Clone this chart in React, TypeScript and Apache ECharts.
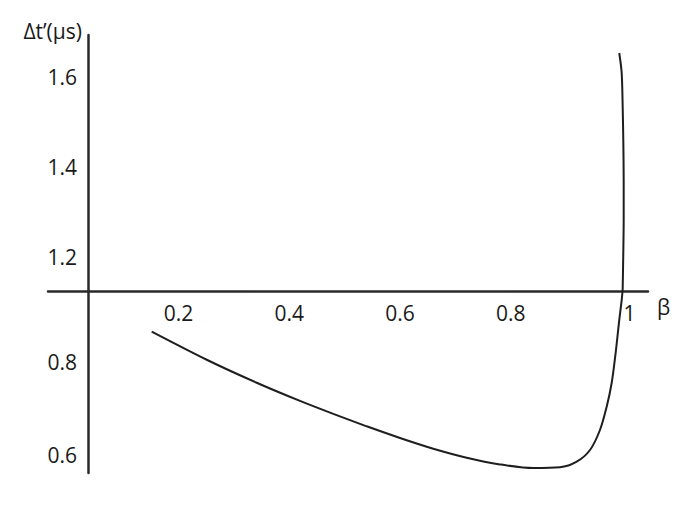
import React, { useEffect, useRef } from "react";
import * as echarts from "echarts";

// β ticks shown on the horizontal axis
const betaTicks = [0.2, 0.4, 0.6, 0.8, 1];
// Δt' ticks above and below the broken axis
const upperTicks = [1.2, 1.4, 1.6];
const lowerTicks = [0.6, 0.8];

// lower branch of the curve (below the β axis)
const betaLower = [
  0.1518, 0.2511, 0.3413, 0.4195, 0.4796, 0.5399, 0.6, 0.6601, 0.7204,
  0.7805, 0.8406, 0.8888, 0.919, 0.943, 0.961, 0.9731, 0.9821, 0.9899,
  0.9958, 1.0002, 1.0018,
];
const dtLower = [
  0.8652, 0.8048, 0.7554, 0.7163, 0.6884, 0.6617, 0.6366, 0.6135, 0.5942,
  0.5798, 0.5718, 0.5735, 0.5856, 0.6108, 0.6538, 0.7039, 0.7548, 0.8258,
  0.8903, 0.9333, 0.9527,
];

// upper branch of the curve (above the β axis)
const betaUpper = [1.0018, 1.002, 1.0031, 1.0038, 1.0038, 1.0031, 1.002, 1.0002, 0.9958];
const dtUpper = [1.1244, 1.13, 1.2089, 1.2822, 1.3711, 1.46, 1.5333, 1.6089, 1.6533];

const X_MIN = -0.0354;
const X_MAX = 1.0477;
const UP_MIN = 1.1244;
const UP_MAX = 1.6933;
const LO_MIN = 0.5613;
const LO_MAX = 0.9527;

const FONT = "'Open Sans', 'Noto Sans', sans-serif";
const TEXT_COLOR = "#1a1a1a";
const AXIS_COLOR = "#2a2a2a";
const FS = 21;

function near(list: number[], v: number) {
  return list.some((t) => Math.abs(t - v) < 1e-6);
}

export default function App() {
  const ref = useRef<HTMLDivElement>(null);

  useEffect(() => {
    document.body.style.margin = "0";
    if (!ref.current) return;
    const chart = echarts.init(ref.current, undefined, { renderer: "svg" });

    const yAxisCommon = {
      type: "value" as const,
      offset: -40,
      axisLine: { show: true, onZero: false, lineStyle: { color: AXIS_COLOR, width: 2.5 } },
      axisTick: { show: false },
      splitLine: { show: false },
    };

    chart.setOption({
      animation: false,
      backgroundColor: "#ffffff",
      grid: [
        { left: 48, right: 46, top: 35, bottom: 217 },
        { left: 48, right: 46, top: 291, bottom: 35 },
      ],
      xAxis: [
        {
          type: "value",
          gridIndex: 0,
          min: X_MIN,
          max: X_MAX,
          position: "bottom",
          name: "β",
          nameLocation: "end",
          nameGap: 9,
          nameTextStyle: {
            fontFamily: FONT,
            fontSize: FS,
            color: TEXT_COLOR,
            verticalAlign: "top",
            padding: [5, 0, 0, 0],
          },
          axisLine: { show: true, onZero: false, lineStyle: { color: AXIS_COLOR, width: 2.5 } },
          axisTick: { show: false },
          splitLine: { show: false },
          axisLabel: {
            customValues: betaTicks,
            margin: 11,
            fontFamily: FONT,
            fontSize: FS,
            color: TEXT_COLOR,
            rich: {
              one: { fontFamily: FONT, fontSize: FS, color: TEXT_COLOR, padding: [0, 0, 0, 16] },
            },
            formatter: (v: number) =>
              near(betaTicks, v) ? (Math.abs(v - 1) < 1e-6 ? "{one|1}" : v.toFixed(1)) : "",
          },
        },
        {
          type: "value",
          gridIndex: 1,
          min: X_MIN,
          max: X_MAX,
          show: false,
        },
      ],
      yAxis: [
        {
          ...yAxisCommon,
          gridIndex: 0,
          min: UP_MIN,
          max: UP_MAX,
          name: "Δt’(μs)",
          nameLocation: "end",
          nameGap: 4,
          nameTextStyle: {
            fontFamily: FONT,
            fontSize: FS,
            color: TEXT_COLOR,
            align: "right",
            verticalAlign: "middle",
            padding: [0, 6, 0, 0],
          },
          axisLabel: {
            customValues: upperTicks,
            margin: 11,
            fontFamily: FONT,
            fontSize: FS,
            color: TEXT_COLOR,
            formatter: (v: number) => (near(upperTicks, v) ? v.toFixed(1) : ""),
          },
        },
        {
          ...yAxisCommon,
          gridIndex: 1,
          min: LO_MIN,
          max: LO_MAX,
          axisLabel: {
            customValues: lowerTicks,
            margin: 11,
            fontFamily: FONT,
            fontSize: FS,
            color: TEXT_COLOR,
            formatter: (v: number) => (near(lowerTicks, v) ? v.toFixed(1) : ""),
          },
        },
      ],
      series: [
        {
          type: "line",
          xAxisIndex: 1,
          yAxisIndex: 1,
          data: betaLower.map((b, i) => [b, dtLower[i]]),
          showSymbol: false,
          smooth: 0.3,
          clip: false,
          lineStyle: { color: "#1e1e1e", width: 2 },
        },
        {
          type: "line",
          xAxisIndex: 0,
          yAxisIndex: 0,
          data: betaUpper.map((b, i) => [b, dtUpper[i]]),
          showSymbol: false,
          smooth: 0.3,
          clip: false,
          lineStyle: { color: "#1e1e1e", width: 2 },
        },
      ],
    });

    return () => chart.dispose();
  }, []);

  return <div ref={ref} style={{ width: 694, height: 508 }} />;
}
